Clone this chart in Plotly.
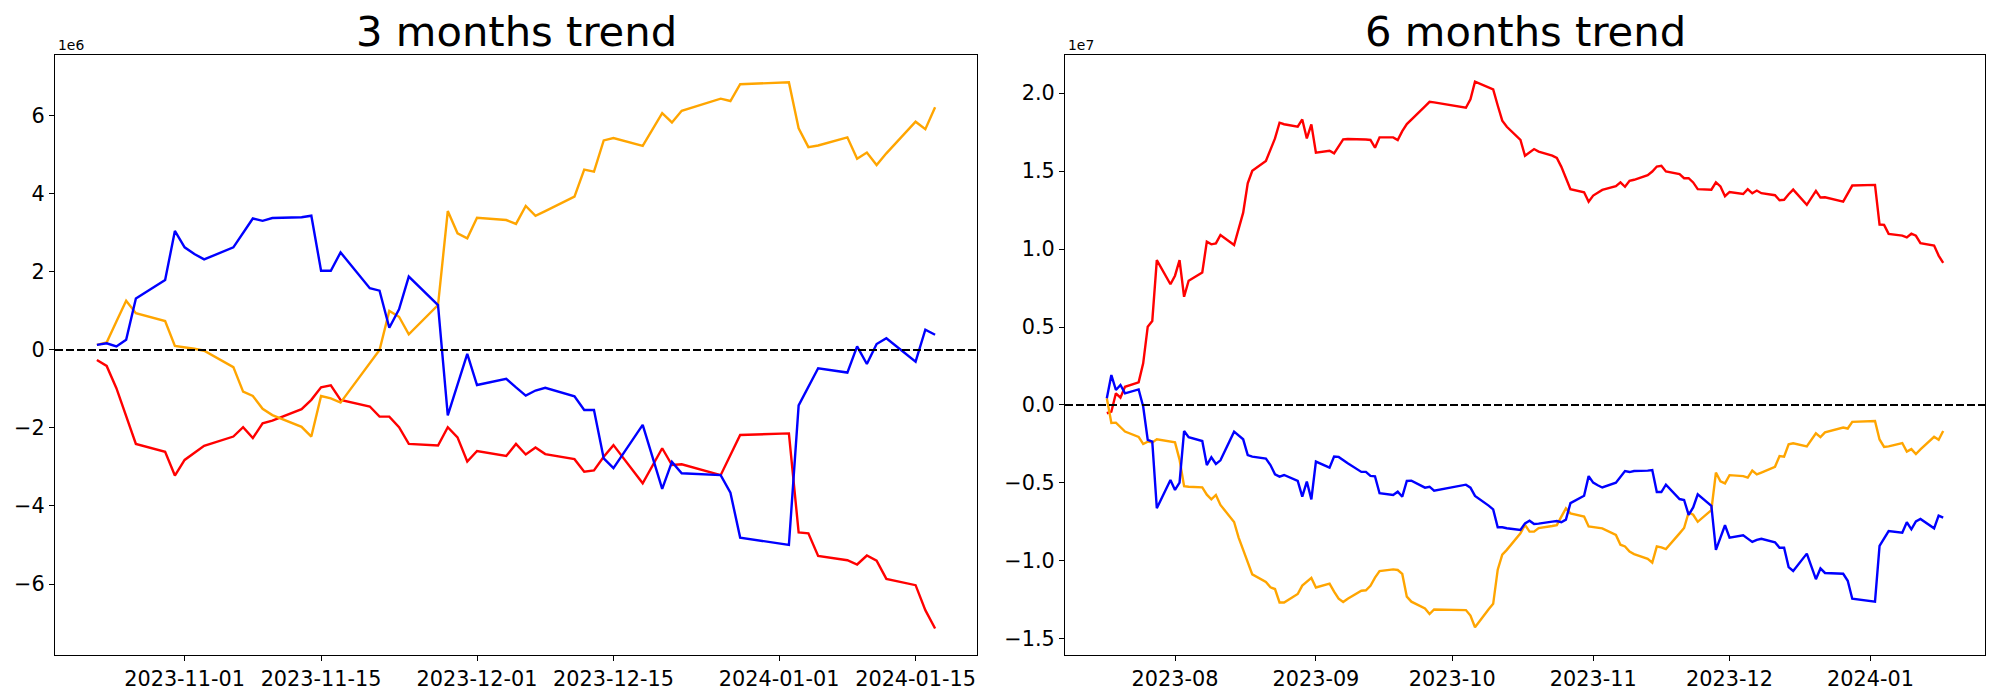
import plotly.graph_objects as go

# ---------------- data (values in units of 1e6) ----------------
dates_3m = ["2023-10-23","2023-10-24","2023-10-25","2023-10-26","2023-10-27","2023-10-30","2023-10-31",
            "2023-11-01","2023-11-02","2023-11-03","2023-11-06","2023-11-07","2023-11-08","2023-11-09","2023-11-10",
            "2023-11-13","2023-11-14","2023-11-15","2023-11-16","2023-11-17","2023-11-20","2023-11-21","2023-11-22",
            "2023-11-23","2023-11-24","2023-11-27","2023-11-28","2023-11-29","2023-11-30","2023-12-01",
            "2023-12-04","2023-12-05","2023-12-06","2023-12-07","2023-12-08","2023-12-11","2023-12-12","2023-12-13",
            "2023-12-14","2023-12-15","2023-12-18","2023-12-19","2023-12-20","2023-12-21","2023-12-22",
            "2023-12-26","2023-12-27","2023-12-28","2024-01-02","2024-01-03","2024-01-04","2024-01-05",
            "2024-01-08","2024-01-09","2024-01-10","2024-01-11","2024-01-12","2024-01-15","2024-01-16","2024-01-17"]

red_3m = [-0.26, -0.41, -0.98, -1.70, -2.41, -2.61, -3.22, -2.82, -2.63, -2.46, -2.22, -1.98, -2.26, -1.88, -1.81,
          -1.52, -1.28, -0.96, -0.91, -1.28, -1.45, -1.71, -1.71, -1.98, -2.41, -2.45, -1.98, -2.24, -2.86, -2.59,
          -2.72, -2.41, -2.68, -2.50, -2.67, -2.80, -3.12, -3.09, -2.74, -2.44, -3.42, -2.97, -2.52, -2.95, -2.93,
          -3.21, -2.69, -2.18, -2.14, -4.68, -4.70, -5.28, -5.39, -5.50, -5.27, -5.40, -5.87, -6.03, -6.67, -7.14]

blue_3m = [0.13, 0.17, 0.09, 0.26, 1.32, 1.79, 3.05, 2.63, 2.46, 2.32, 2.63, 3.00, 3.37, 3.31, 3.38,
           3.40, 3.44, 2.03, 2.03, 2.50, 1.58, 1.52, 0.57, 1.04, 1.88, 1.15, -1.68, -0.89, -0.10, -0.90,
           -0.74, -0.96, -1.17, -1.04, -0.97, -1.19, -1.54, -1.54, -2.78, -3.03, -1.92, -2.74, -3.56, -2.87, -3.16,
           -3.21, -3.66, -4.81, -5.00, -1.42, -0.95, -0.47, -0.58, 0.09, -0.36, 0.15, 0.30, -0.30, 0.52, 0.39]

orange_3m = [0.13, 0.19, 0.73, 1.26, 0.94, 0.74, 0.10, 0.07, 0.03, -0.02, -0.44, -1.07, -1.18, -1.51, -1.67,
             -1.97, -2.22, -1.18, -1.24, -1.35, -0.34, 0.00, 1.00, 0.85, 0.40, 1.15, 3.56, 2.99, 2.86, 3.39,
             3.33, 3.23, 3.69, 3.44, 3.56, 3.93, 4.62, 4.57, 5.37, 5.43, 5.23, 5.64, 6.07, 5.83, 6.13,
             6.44, 6.38, 6.81, 6.86, 5.68, 5.20, 5.24, 5.45, 4.90, 5.06, 4.74, 5.04, 5.85, 5.66, 6.22]

dates_6m_early = ["2023-07-17","2023-07-18","2023-07-19","2023-07-20","2023-07-21","2023-07-24","2023-07-25",
                  "2023-07-26","2023-07-27","2023-07-28","2023-07-31",
                  "2023-08-01","2023-08-02","2023-08-03","2023-08-04","2023-08-07","2023-08-08","2023-08-09",
                  "2023-08-10","2023-08-11","2023-08-14","2023-08-15","2023-08-16","2023-08-17","2023-08-18",
                  "2023-08-21","2023-08-22","2023-08-23","2023-08-24","2023-08-25","2023-08-28","2023-08-29",
                  "2023-08-30","2023-08-31",
                  "2023-09-01","2023-09-04","2023-09-05","2023-09-06","2023-09-07","2023-09-08","2023-09-11",
                  "2023-09-12","2023-09-13","2023-09-14","2023-09-15","2023-09-18","2023-09-19","2023-09-20",
                  "2023-09-21","2023-09-22","2023-09-25","2023-09-26","2023-09-27",
                  "2023-10-04","2023-10-05","2023-10-06","2023-10-09","2023-10-10","2023-10-11","2023-10-12",
                  "2023-10-13","2023-10-16","2023-10-17","2023-10-18","2023-10-19","2023-10-20"]
dates_6m = dates_6m_early + dates_3m

red_6m = [-0.53, -0.43, 0.75, 0.47, 1.17, 1.45, 2.67, 5.02, 5.38, 9.29, 7.74,
          8.29, 9.29, 6.94, 7.97, 8.50, 10.47, 10.30, 10.36, 10.90, 10.26, 11.32, 12.33, 14.21, 15.02,
          15.64, 16.39, 17.09, 18.10, 18.00, 17.84, 18.31, 17.09, 17.99,
          16.18, 16.30, 16.13, 16.60, 17.03, 17.05, 17.05, 17.02, 16.99, 16.50, 17.16, 17.16, 16.99, 17.56,
          18.01, 18.31, 19.15, 19.44, 19.40,
          19.06, 19.60, 20.73, 20.37, 20.24, 19.20, 18.23, 17.84, 16.99, 15.98, 16.20, 16.41, 16.25,
          15.99, 15.84, 15.27, 14.55, 13.84, 13.64, 13.03, 13.43, 13.62, 13.79, 14.03, 14.27, 13.99, 14.37, 14.44,
          14.73, 14.97, 15.29, 15.34, 14.97, 14.80, 14.54, 14.54, 14.27, 13.84, 13.80, 14.27, 14.01, 13.39, 13.66,
          13.53, 13.84, 13.57, 13.75, 13.58, 13.45, 13.13, 13.16, 13.51, 13.81, 12.83, 13.28, 13.73, 13.30, 13.32,
          13.04, 13.56, 14.07, 14.11, 11.57, 11.55, 10.97, 10.86, 10.75, 10.98, 10.85, 10.38, 10.22, 9.58, 9.11]

blue_6m = [0.43, 1.92, 0.96, 1.28, 0.75, 1.00, -0.10, -2.24, -2.35, -6.62, -4.81,
           -5.45, -4.98, -1.67, -2.07, -2.31, -3.85, -3.35, -3.78, -3.55, -1.71, -1.95, -2.20, -3.21, -3.31,
           -3.44, -3.85, -4.44, -4.59, -4.49, -4.87, -5.88, -4.91, -6.05,
           -3.63, -4.02, -3.31, -3.33, -3.55, -3.74, -4.29, -4.29, -4.55, -4.58, -5.66, -5.77, -5.56, -5.88,
           -4.87, -4.85, -5.30, -5.24, -5.49,
           -5.11, -5.30, -5.83, -6.45, -6.69, -7.84, -7.84, -7.90, -8.01, -7.59, -7.42, -7.63, -7.61,
           -7.48, -7.44, -7.52, -7.35, -6.29, -5.82, -4.56, -4.98, -5.15, -5.29, -4.98, -4.61, -4.24, -4.30, -4.23,
           -4.21, -4.17, -5.58, -5.58, -5.11, -6.03, -6.09, -7.04, -6.57, -5.73, -6.46, -9.29, -8.50, -7.71, -8.51,
           -8.35, -8.57, -8.78, -8.65, -8.58, -8.80, -9.15, -9.15, -10.39, -10.64, -9.53, -10.35, -11.17, -10.48, -10.77,
           -10.82, -11.27, -12.42, -12.61, -9.03, -8.56, -8.08, -8.19, -7.52, -7.97, -7.46, -7.31, -7.91, -7.09, -7.22]

orange_6m = [0.43, -1.15, -1.13, -1.40, -1.70, -2.05, -2.50, -2.35, -2.40, -2.20, -2.35,
             -2.40, -3.50, -5.20, -5.24, -5.28, -5.75, -6.05, -5.77, -6.41, -7.50, -8.50, -9.29, -10.15, -10.86,
             -11.35, -11.69, -11.80, -12.66, -12.66, -12.12, -11.58, -11.33, -11.09,
             -11.70, -11.45, -11.97, -12.42, -12.63, -12.42, -11.91, -11.88, -11.59, -11.07, -10.65, -10.54, -10.58,
             -10.83, -12.29, -12.61, -13.05, -13.40, -13.11,
             -13.15, -13.50, -14.25, -13.10, -12.75, -10.56, -9.59, -9.29, -8.23, -7.69, -8.12, -8.12, -7.89,
             -7.76, -7.70, -7.16, -6.63, -6.95, -7.15, -7.79, -7.82, -7.86, -7.91, -8.33, -8.96, -9.07, -9.40, -9.56,
             -9.86, -10.11, -9.07, -9.13, -9.24, -8.23, -7.89, -6.89, -7.04, -7.49, -6.74, -4.33, -4.90, -5.03, -4.50,
             -4.56, -4.66, -4.20, -4.45, -4.33, -3.96, -3.27, -3.32, -2.52, -2.46, -2.66, -2.25, -1.82, -2.06, -1.76,
             -1.45, -1.51, -1.08, -1.03, -2.21, -2.69, -2.65, -2.44, -2.99, -2.83, -3.15, -2.85, -2.04, -2.23, -1.67]

titles = ["3 months trend", "6 months trend"]
exp_labels = ["1e6", "1e7"]
xtick_vals_3m = ["2023-11-01", "2023-11-15", "2023-12-01", "2023-12-15", "2024-01-01", "2024-01-15"]
xtick_text_3m = ["2023-11-01", "2023-11-15", "2023-12-01", "2023-12-15", "2024-01-01", "2024-01-15"]
xtick_vals_6m = ["2023-08-01", "2023-09-01", "2023-10-01", "2023-11-01", "2023-12-01", "2024-01-01"]
xtick_text_6m = ["2023-08", "2023-09", "2023-10", "2023-11", "2023-12", "2024-01"]
ytick_vals_3m = [-6, -4, -2, 0, 2, 4, 6]
ytick_text_3m = ["\u22126", "\u22124", "\u22122", "0", "2", "4", "6"]
ytick_vals_6m = [-1.5, -1.0, -0.5, 0.0, 0.5, 1.0, 1.5, 2.0]
ytick_text_6m = ["\u22121.5", "\u22121.0", "\u22120.5", "0.0", "0.5", "1.0", "1.5", "2.0"]

# ---------------- layout geometry ----------------
W, H = 1984, 684
OFF = 8
FONT = "DejaVu Sans"

def fx(px):
    return (px - OFF) / W

def fy(px):
    return 1 - (px - OFF) / H

M = 1e6
fig = go.Figure()
colors = {"red": "#ff0000", "blue": "#0000ff", "orange": "#ffa500"}
LW = 2.4

for name, vals in [("red", red_3m), ("orange", orange_3m), ("blue", blue_3m)]:
    fig.add_trace(go.Scatter(x=dates_3m, y=[v * M for v in vals], mode="lines",
                             line=dict(color=colors[name], width=LW), xaxis="x", yaxis="y",
                             showlegend=False))
for name, vals in [("red", red_6m), ("orange", orange_6m), ("blue", blue_6m)]:
    fig.add_trace(go.Scatter(x=dates_6m, y=[v * M for v in vals], mode="lines",
                             line=dict(color=colors[name], width=LW), xaxis="x2", yaxis="y2",
                             showlegend=False))

axis_common = dict(showline=True, linecolor="black", linewidth=1.1, mirror=True,
                   showgrid=False, zeroline=False, ticks="outside", ticklen=5,
                   tickwidth=1.1, tickcolor="black",
                   tickfont=dict(family=FONT, size=20.8, color="black"))

fig.update_layout(
    width=W, height=H,
    margin=dict(l=0, r=0, t=0, b=0),
    paper_bgcolor="white", plot_bgcolor="white",
    font=dict(family=FONT, color="black"),
    xaxis=dict(domain=[fx(55), fx(977)], type="date",
               range=["2023-10-18 16:48", "2024-01-21 07:12"],
               tickvals=xtick_vals_3m, ticktext=xtick_text_3m, anchor="y", **axis_common),
    yaxis=dict(domain=[fy(655), fy(55)], range=[-7.82e6, 7.56e6],
               tickvals=[v * 1e6 for v in ytick_vals_3m], ticktext=ytick_text_3m,
               anchor="x", **axis_common),
    xaxis2=dict(domain=[fx(1065), fx(1985)], type="date",
                range=["2023-07-07 19:12", "2024-01-26 04:48"],
                tickvals=xtick_vals_6m, ticktext=xtick_text_6m, anchor="y2", **axis_common),
    yaxis2=dict(domain=[fy(655), fy(55)], range=[-1.603e7, 2.244e7],
                tickvals=[v * 1e7 for v in ytick_vals_6m], ticktext=ytick_text_6m,
                anchor="x2", **axis_common),
)

for xr, yr in [("x domain", "y"), ("x2 domain", "y2")]:
    fig.add_shape(type="line", xref=xr, yref=yr, x0=0, x1=1, y0=0, y1=0,
                  line=dict(color="black", width=2, dash="8px,3px"))

for i, (x0, x1) in enumerate([(55, 977), (1065, 1985)]):
    fig.add_annotation(text=titles[i], xref="paper", yref="paper",
                       x=fx((x0 + x1) / 2), y=fy(58), xanchor="center", yanchor="bottom",
                       showarrow=False, font=dict(family=FONT, size=41.7, color="black"))
    fig.add_annotation(text=exp_labels[i], xref="paper", yref="paper",
                       x=fx(x0 + 1), y=fy(55), xanchor="left", yanchor="bottom",
                       showarrow=False, font=dict(family=FONT, size=13.9, color="black"))

fig.write_html("out.html")
